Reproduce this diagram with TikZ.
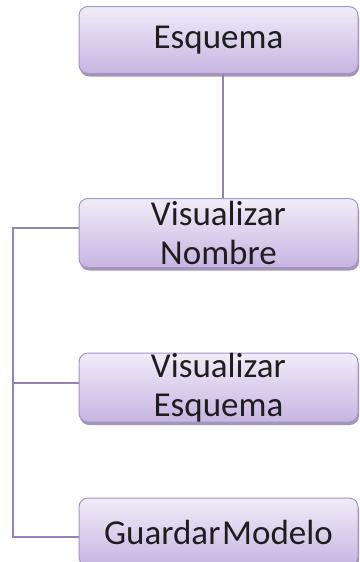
\documentclass[tikz,border=0pt]{standalone}
\usepackage{fontspec}
\setmainfont{Carlito}
\usetikzlibrary{shadows}
\definecolor{boxtop}{HTML}{F1ECF8}
\definecolor{boxbot}{HTML}{C7B4E2}
\definecolor{boxline}{HTML}{A592C6}
\definecolor{shad}{HTML}{8C7DA3}
\definecolor{conn}{HTML}{9482B6}
\definecolor{txt}{HTML}{1E1E1E}
\tikzset{
  boxnode/.style={draw=boxline, line width=1pt, rounded corners=9pt,
    top color=boxtop, bottom color=boxbot, minimum width=279pt,
    inner sep=0pt, text=txt, align=center,
    font=\fontsize{35}{39}\selectfont,
    drop shadow={shadow xshift=1pt, shadow yshift=-3pt, fill=shad, opacity=0.8}},
  conline/.style={draw=conn, line width=1.8pt}
}
\begin{document}
\begin{tikzpicture}[x=1pt,y=-1pt]
\useasboundingbox (0,0) rectangle (359,562);
\node[boxnode, minimum height=67pt] (e) at (218.5,40) {Esquema};
\node[boxnode, minimum height=69pt] (vn) at (218.5,233) {Visualizar\\Nombre};
\node[boxnode, minimum height=69pt] (ve) at (218.5,387.5) {Visualizar\\Esquema};
\node[boxnode, minimum height=68pt] (gm) at (218.5,532) {Guardar\hspace{0.05em}Modelo};
\coordinate (t1) at (13,228);
\coordinate (t2) at (13,383);
\coordinate (t3) at (13,537);
\draw[conline] ([xshift=4.5pt]e.south) -- ([xshift=4.5pt]vn.north);
\draw[conline] (vn.west |- t1) -- (t1) -- (t3) -- (gm.west |- t3);
\draw[conline] (t2) -- (ve.west |- t2);
\end{tikzpicture}
\end{document}
